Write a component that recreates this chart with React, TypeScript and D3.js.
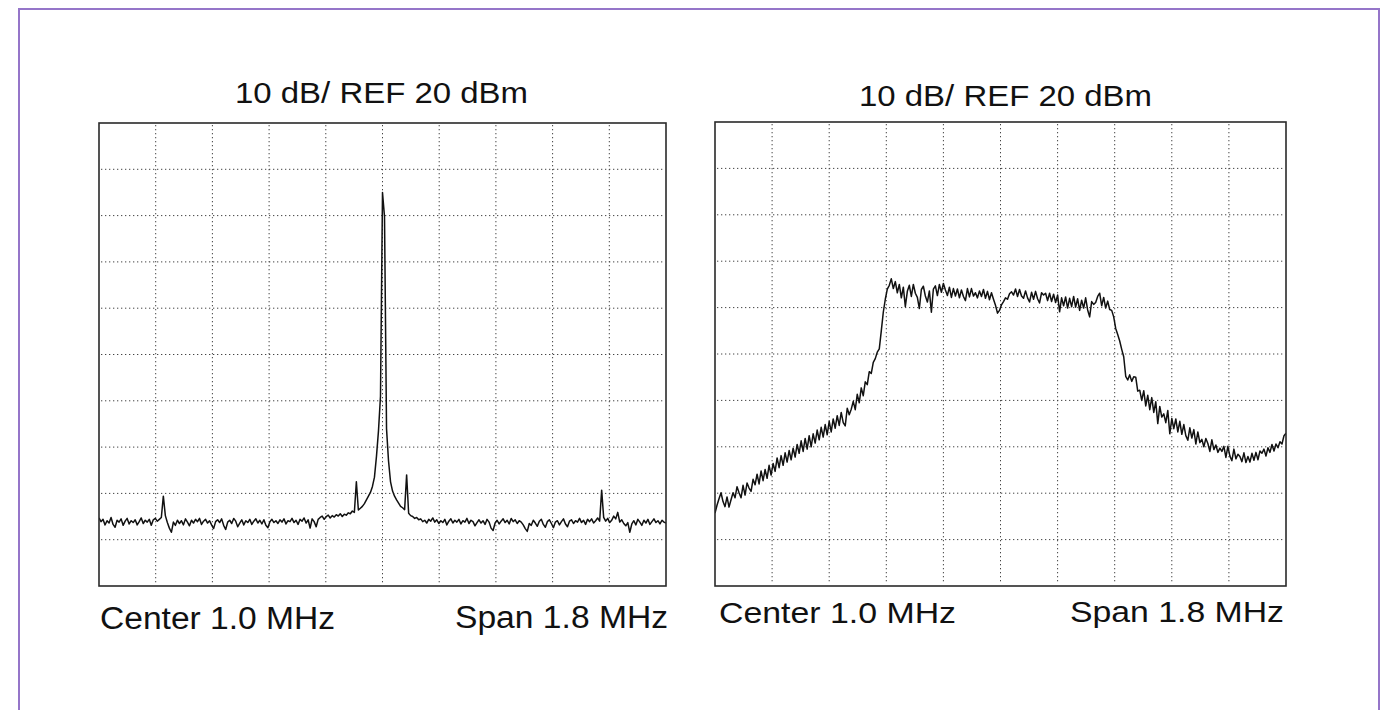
import React from 'react';
import * as d3 from 'd3';

const TITLE = '10 dB/ REF 20 dBm';
const CENTER_LABEL = 'Center 1.0 MHz';
const SPAN_LABEL = 'Span 1.8 MHz';
const REF_DBM = 20;
const DB_PER_DIV = 10;
const DIVISIONS = 10;
const CENTER_MHZ = 1.0;
const SPAN_MHZ = 1.8;

// Left panel trace (dBm), evenly spaced across the span
const LEFT_DBM = [
  -65.3, -66.1, -65.6, -66.8, -65.9, -66.4, -65.2, -66.7, -67.3, -65.8,
  -66.2, -65.5, -66.9, -66.0, -65.4, -66.6, -65.9, -66.3, -65.7, -66.8,
  -66.1, -65.3, -66.5, -65.8, -66.2, -65.6, -66.9, -65.7, -65.4, -66.0,
  -65.6, -65.2, -60.6, -64.8, -66.3, -67.5, -68.4, -66.2, -66.9, -65.8,
  -66.5, -65.9, -66.8, -65.5, -66.2, -67.0, -65.8, -66.4, -65.6, -66.1,
  -65.4, -66.7, -66.0, -65.6, -66.4, -65.9, -66.8, -67.6, -66.1, -65.7,
  -66.3, -65.5, -66.9, -67.8, -66.2, -65.8, -66.5, -65.4, -66.0, -67.2,
  -66.4, -65.7, -66.8, -65.9, -66.3, -65.6, -66.7, -66.0, -65.5, -66.4,
  -65.8, -66.6, -65.7, -66.9, -67.4, -66.1, -65.6, -66.3, -65.9, -66.5,
  -65.7, -66.2, -65.5, -66.6, -65.9, -66.1, -65.4, -66.3, -65.8, -66.7,
  -65.6, -66.0, -65.3, -66.4, -65.7, -67.5, -65.5, -66.1, -67.2, -65.6,
  -65.2, -64.9, -65.6, -65.0, -64.7, -65.3, -64.8, -65.1, -64.6, -64.9,
  -64.4, -65.0, -64.5, -64.7, -64.2, -64.4, -63.8, -64.1, -57.5, -63.6,
  -63.2, -62.8, -62.2, -61.4, -60.6, -59.8, -58.5, -56.5, -52.0, -46.5,
  -39.0, 5.0, -0.2, -46.0, -53.0, -57.5, -59.5, -60.6, -61.4, -62.1,
  -62.8, -63.1, -63.5, -56.0, -64.3, -64.8, -65.0, -65.4, -65.2, -65.7,
  -65.5, -66.1, -65.8, -66.4, -65.6, -66.0, -65.3, -66.2, -65.7, -66.5,
  -65.9, -66.3, -65.6, -66.8, -66.0, -65.5, -66.4, -65.8, -66.2, -65.6,
  -66.6, -65.9, -66.2, -65.4, -66.5, -65.8, -66.1, -67.0, -66.3, -65.7,
  -66.4, -65.9, -66.7, -65.6, -66.2, -67.5, -68.0, -66.4, -65.8, -66.6,
  -66.0, -65.5, -66.3, -65.8, -66.6, -65.4, -66.1, -65.7, -66.5, -65.9,
  -66.2, -66.8, -67.6, -68.2, -66.5, -66.9, -65.8, -66.4, -67.1, -66.0,
  -65.6, -66.7, -67.3, -66.1, -65.7, -66.5, -67.4, -66.2, -65.9, -66.8,
  -66.1, -65.5, -66.6, -67.2, -66.0, -65.7, -66.5, -65.9, -66.2, -65.4,
  -66.3, -65.8, -66.7, -65.6, -66.1, -65.5, -66.4, -65.9, -65.3, -66.0,
  -59.3, -65.2, -66.0, -65.4, -66.3, -65.8, -64.9, -65.5, -64.1, -66.2,
  -65.7, -66.5, -67.0, -66.3, -68.4, -66.6, -65.9, -66.8, -65.6, -66.2,
  -66.9, -65.8, -66.4, -65.6, -66.7, -66.1, -65.5, -66.3, -65.9, -66.6,
  -65.8, -66.2, -66.4,
];

// Right panel trace (dBm), evenly spaced across the span
const RIGHT_DBM = [
  -64.3, -62.6, -61.2, -59.9, -61.8, -62.9, -60.8, -63.0, -61.4, -59.9,
  -61.0, -58.6, -59.9, -61.0, -58.3, -60.4, -57.8, -58.9, -59.6, -57.0,
  -58.2, -55.9, -58.0, -55.2, -57.3, -54.9, -56.8, -54.0, -56.1, -53.6,
  -55.3, -52.4, -54.5, -51.9, -54.0, -51.3, -53.3, -50.8, -52.8, -50.3,
  -52.2, -49.5, -51.4, -48.7, -51.0, -48.2, -50.5, -47.6, -50.0, -47.2,
  -49.2, -46.4, -48.5, -45.8, -47.9, -45.2, -47.4, -44.5, -46.8, -44.0,
  -46.0, -43.3, -45.4, -42.6, -44.8, -45.5, -41.7, -43.1, -41.9, -40.2,
  -42.0, -38.7, -40.5, -37.3, -39.0, -36.0, -36.6, -33.8, -34.2, -31.8,
  -31.0, -29.6, -28.9, -25.0, -21.0, -18.2, -16.0, -15.2, -13.8, -15.9,
  -14.4, -16.8, -15.0, -17.9, -15.6, -19.8, -16.5, -15.2, -17.6, -15.0,
  -16.9, -17.8, -20.2, -16.1, -15.4, -17.5, -18.8, -16.4, -21.0, -16.0,
  -15.3, -17.4, -15.0, -16.7, -14.8, -16.2, -17.4, -15.6, -17.8, -15.9,
  -17.5, -16.0, -17.9, -16.2, -17.6, -18.5, -15.9, -17.7, -15.9, -17.5,
  -16.8, -17.9, -16.4, -17.6, -16.1, -18.0, -16.5, -18.3, -16.8, -18.2,
  -19.5, -21.2, -20.6, -19.4, -18.7, -17.9, -18.2, -17.0, -16.6, -17.3,
  -16.0, -17.6, -16.1, -17.5, -18.0, -16.4, -17.9, -18.8, -16.7, -18.2,
  -16.5, -18.1, -19.0, -16.8, -17.3, -16.9, -18.5, -16.9, -18.7, -17.1,
  -18.9, -17.3, -20.9, -17.9, -19.6, -17.7, -20.1, -18.0, -19.8, -17.6,
  -19.9, -18.1, -20.6, -18.4, -20.1, -17.9, -20.5, -22.0, -18.7, -19.3,
  -18.9, -17.6, -16.9, -19.6, -17.8, -20.1, -18.6, -20.4, -20.6, -22.0,
  -24.5, -25.8, -27.2, -29.0, -30.6, -34.8, -35.6, -34.5, -35.9, -34.9,
  -35.0, -38.0, -37.8, -40.0, -37.9, -41.2, -38.9, -42.0, -39.4, -42.6,
  -40.3, -45.0, -41.3, -43.6, -42.9, -44.8, -42.2, -47.2, -43.9, -46.1,
  -44.0, -46.8, -44.5, -47.3, -45.2, -47.6, -48.6, -45.9, -48.1, -46.3,
  -49.4, -46.8, -49.1, -48.4, -50.0, -48.2, -49.3, -51.0, -48.5, -50.6,
  -49.6, -51.2, -50.3, -51.0, -49.9, -52.3, -49.9, -52.0, -53.0, -50.5,
  -52.6, -51.6, -52.1, -53.2, -51.3, -53.4, -52.1, -53.3, -51.4, -52.9,
  -51.2, -52.8, -50.9, -51.4, -50.5, -52.0, -50.2, -51.2, -49.5, -50.9,
  -49.4, -50.2, -48.9, -49.4, -47.6, -47.1,
];

const W = 1394;
const H = 710;
const FONT = '"Liberation Sans", Arial, Helvetica, sans-serif';

type TextSpec = { x: number; y: number; len: number; size: number };
type PanelProps = {
  id: string;
  data: number[];
  x0: number;
  y0: number;
  w: number;
  h: number;
  title: TextSpec;
  center: TextSpec;
  span: TextSpec;
};

function Label({ spec, text }: { spec: TextSpec; text: string }) {
  return (
    <text
      x={spec.x}
      y={spec.y}
      fontSize={spec.size}
      fontFamily={FONT}
      fill="#111"
      textLength={spec.len}
      lengthAdjust="spacingAndGlyphs"
    >
      {text}
    </text>
  );
}

function Panel({ id, data, x0, y0, w, h, title, center, span }: PanelProps) {
  const fStart = CENTER_MHZ - SPAN_MHZ / 2;
  const fx = d3.scaleLinear().domain([fStart, fStart + SPAN_MHZ]).range([x0, x0 + w]);
  const y = d3
    .scaleLinear()
    .domain([REF_DBM - DB_PER_DIV * DIVISIONS, REF_DBM])
    .range([y0 + h, y0]);
  const freqOf = (i: number) => fStart + (i * SPAN_MHZ) / (data.length - 1);
  const line = d3
    .line<number>()
    .x((_, i) => fx(freqOf(i)))
    .y((d) => y(d));
  const gridF = d3.range(1, DIVISIONS).map((k) => fStart + (k * SPAN_MHZ) / DIVISIONS);
  const gridDb = d3.range(1, DIVISIONS).map((k) => REF_DBM - k * DB_PER_DIV);

  return (
    <g>
      <defs>
        <clipPath id={`clip-${id}`}>
          <rect x={x0} y={y0} width={w} height={h} />
        </clipPath>
      </defs>
      <rect x={x0} y={y0} width={w} height={h} fill="#fff" />
      {gridF.map((f, k) => (
        <line
          key={`gx${k}`}
          x1={fx(f)}
          x2={fx(f)}
          y1={y0 + 2}
          y2={y0 + h - 2}
          stroke="#444"
          strokeWidth={1}
          strokeDasharray="1.3 2.7"
        />
      ))}
      {gridDb.map((d, k) => (
        <line
          key={`gy${k}`}
          x1={x0 + 2}
          x2={x0 + w - 2}
          y1={y(d)}
          y2={y(d)}
          stroke="#444"
          strokeWidth={1}
          strokeDasharray="1.3 2.7"
        />
      ))}
      <path
        d={line(data) || ''}
        fill="none"
        stroke="#111"
        strokeWidth={1.5}
        strokeLinejoin="round"
        clipPath={`url(#clip-${id})`}
      />
      <rect x={x0} y={y0} width={w} height={h} fill="none" stroke="#2a2a2a" strokeWidth={1.6} />
      <Label spec={title} text={TITLE} />
      <Label spec={center} text={CENTER_LABEL} />
      <Label spec={span} text={SPAN_LABEL} />
    </g>
  );
}

export default function App() {
  return (
    <svg
      width={W}
      height={H}
      viewBox={`0 0 ${W} ${H}`}
      style={{ position: 'absolute', left: 0, top: 0, display: 'block', background: '#fff' }}
    >
      <rect x={0} y={0} width={W} height={H} fill="#fff" />
      <rect x={19} y={9} width={1360} height={800} fill="none" stroke="#9575c9" strokeWidth={2} />
      <Panel
        id="left"
        data={LEFT_DBM}
        x0={99}
        y0={123}
        w={567}
        h={463}
        title={{ x: 235, y: 103, len: 293, size: 29 }}
        center={{ x: 100, y: 629, len: 235, size: 31 }}
        span={{ x: 455, y: 628, len: 213, size: 31 }}
      />
      <Panel
        id="right"
        data={RIGHT_DBM}
        x0={715}
        y0={122}
        w={571}
        h={464}
        title={{ x: 859, y: 106, len: 293, size: 29 }}
        center={{ x: 719, y: 623, len: 237, size: 30 }}
        span={{ x: 1070, y: 622, len: 214, size: 30 }}
      />
    </svg>
  );
}
